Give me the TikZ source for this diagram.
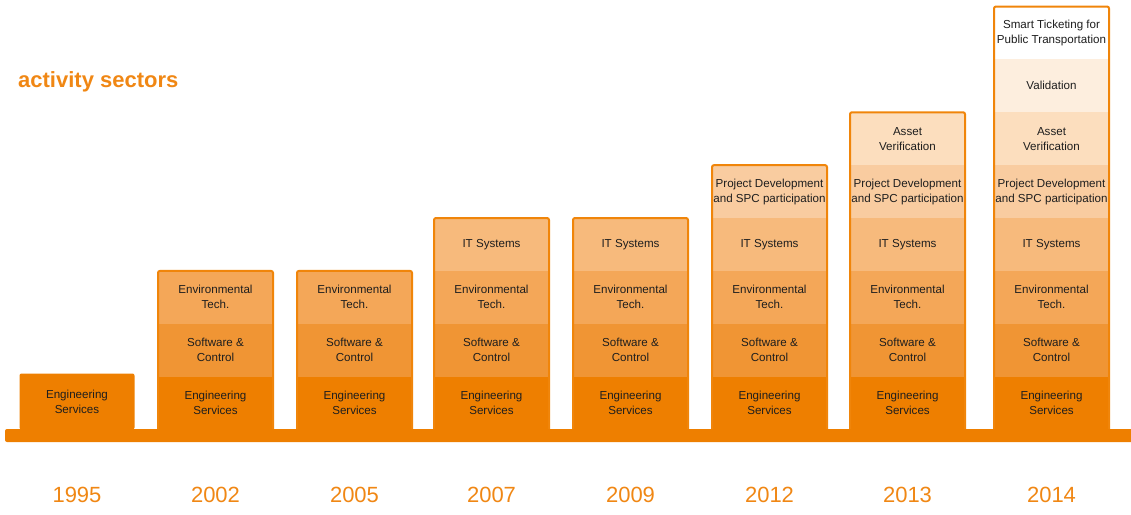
\documentclass[tikz,border=0pt]{standalone}
\usepackage{fontspec}
\setmainfont{Liberation Sans}
\definecolor{r1}{RGB}{238,127,0}
\definecolor{r2}{RGB}{240,149,52}
\definecolor{r3}{RGB}{244,167,88}
\definecolor{r4}{RGB}{247,186,124}
\definecolor{r5}{RGB}{249,204,160}
\definecolor{r6}{RGB}{252,222,190}
\definecolor{r7}{RGB}{253,238,222}
\definecolor{r8}{RGB}{255,255,255}
\definecolor{brd}{RGB}{240,133,10}
\definecolor{txt}{RGB}{30,30,30}
\definecolor{yrcol}{RGB}{240,135,20}
\newcommand\rowtext[1]{\ifcase#1\or Engineering\\Services\or Software \&\\Control\or Environmental\\Tech.\or IT Systems\or Project Development\\and SPC participation\or Asset\\Verification\or Validation\or Smart Ticketing for\\Public Transportation\fi}
\begin{document}
\begin{tikzpicture}[x=1pt,y=-1pt,
  cell/.style={rectangle, inner sep=0pt, outer sep=0pt, minimum width=115pt, minimum height=52.875pt, align=center, text=txt, font=\fontsize{11.6}{15}\selectfont},
  colborder/.style={draw=brd, line width=2pt, rounded corners=2pt},
  yearlabel/.style={text=yrcol, font=\fontsize{22}{26}\selectfont, inner sep=0pt},
  titlelabel/.style={text=yrcol, font=\fontsize{22}{26}\selectfont\bfseries, inner sep=0pt, anchor=west}]
\useasboundingbox (0,0) rectangle (1131,514);
\node[titlelabel] (title) at (18,82) {activity sectors};
% 1995 column
\node[cell, fill=r1, rounded corners=2pt, minimum height=56pt] (c1-1) at (77,401.5) {\rowtext{1}};
\node[yearlabel] (y1) at (77,495) {1995};
% other columns
\foreach \i/\x/\n/\yr in {2/158/3/2002, 3/297/3/2005, 4/434/4/2007, 5/573/4/2009, 6/712/5/2012, 7/850/6/2013, 8/994/8/2014} {
  \foreach \r in {1,...,\n} {
    \node[cell, fill=r\r] (c\i-\r) at ({\x+57.5}, {429.5-(\r-0.5)*52.875}) {\rowtext{\r}};
  }
  \draw[colborder] (c\i-1.south west) |- (c\i-\n.north east) -- (c\i-1.south east);
  \node[yearlabel] (y\i) at ({\x+57.5},495) {\yr};
}
% base bar
\fill[r1, rounded corners=2pt] (5,429) rectangle (1140,442);
\end{tikzpicture}
\end{document}
